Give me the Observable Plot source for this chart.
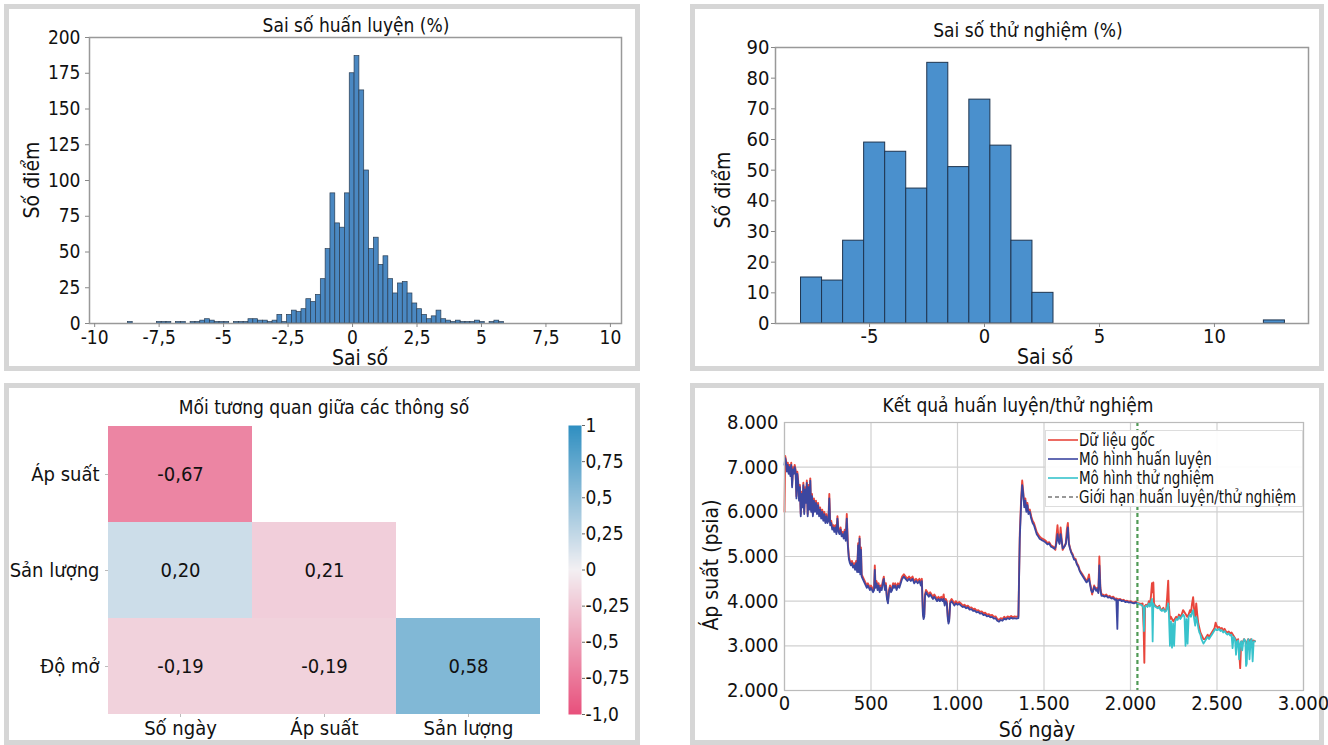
<!DOCTYPE html>
<html><head><meta charset="utf-8">
<script src="https://cdn.jsdelivr.net/npm/d3@7"></script>
<script src="https://cdn.jsdelivr.net/npm/@observablehq/plot@0.6"></script>
<style>
body{margin:0;background:#fff;}
#root{position:relative;width:1328px;height:745px;overflow:hidden;font-family:"Liberation Sans Narrow","DejaVu Sans Condensed","Roboto Condensed","Open Sans Condensed",Roboto,sans-serif;font-stretch:condensed;color:#111;}
.panel{position:absolute;border:5px solid #d6d6d6;box-sizing:border-box;}
.wrap{position:absolute;}
.t{position:absolute;transform:translate(-50%,-50%);white-space:nowrap;line-height:1;}
.leg{position:absolute;background:rgba(255,255,255,0.92);border:1px solid #ddd;box-sizing:border-box;}
</style></head>
<body><div id="root"></div>
<script>
const FONT = '"Liberation Sans Narrow","DejaVu Sans Condensed","Roboto Condensed","Open Sans Condensed",Roboto,sans-serif';

// ---------- Panel 1: training error histogram ----------
const trainTitle = "Sai số huấn luyện (%)";
const trainBinStart = -8.71, trainBinWidth = 0.187;
const trainCounts = [1,0,0,0,0,0,1,1,1,0,1,1,0,1,1,2,3,2,1,1,1,0,1,1,1,3,3,2,2,1,2,6,1,6,9,8,10,17,15,20,31,52,91,70,67,91,175,187,163,107,52,60,41,47,31,21,28,29,21,14,10,6,3,5,9,3,2,1,2,1,1,1,2,1,0,1,2,1];
const trainXTicks = [-10,-7.5,-5,-2.5,0,2.5,5,7.5,10];
const trainXLabels = ["-10","-7,5","-5","-2,5","0","2,5","5","7,5","10"];
const trainYTicks = [0,25,50,75,100,125,150,175,200];
const trainYLabels = ["0","25","50","75","100","125","150","175","200"];

// ---------- Panel 2: test error histogram ----------
const testTitle = "Sai số thử nghiệm (%)";
const testBinStart = -7.98, testBinWidth = 0.915;
const testCounts = [15,14,27,59,56,44,85,51,73,58,27,10,0,0,0,0,0,0,0,0,0,0,1];
const testXTicks = [-5,0,5,10];
const testXLabels = ["-5","0","5","10"];
const testYTicks = [0,10,20,30,40,50,60,70,80,90];
const testYLabels = ["0","10","20","30","40","50","60","70","80","90"];

// ---------- Panel 3: correlation heatmap ----------
const corrTitle = "Mối tương quan giữa các thông số";
const corrRowNames = ["Áp suất","Sản lượng","Độ mở"];
const corrColNames = ["Số ngày","Áp suất","Sản lượng"];
const corrColorValues = [[-0.67,null,null],[0.20,-0.21,null],[-0.19,-0.19,0.58]];
const corrCellLabels = [["-0,67","",""],["0,20","0,21",""],["-0,19","-0,19","0,58"]];
const cbTicks = [-1,-0.75,-0.5,-0.25,0,0.25,0.5,0.75,1];
const cbLabels = ["-1,0","-0,75","-0,5","-0,25","0","0,25","0,5","0,75","1"];
const corrPalette = ["#e8507c","#f3f0f3","#2f8fc1"];

// ---------- Panel 4: pressure vs days ----------
const lineTitle = "Kết quả huấn luyện/thử nghiệm";
const splitDay = 2040;
const obsSeries = [[0,6000],[4,7250],[9,7150],[14,6950],[19,7100],[24,6900],[29,7050],[34,6850],[39,7100],[44,6600],[49,7000],[54,6900],[59,7050],[64,6950],[69,6350],[74,6900],[79,6700],[84,6300],[89,6600],[94,5950],[99,6450],[104,6150],[109,6650],[114,6000],[119,6550],[124,6250],[129,6700],[134,5950],[139,6600],[144,6100],[149,6750],[154,6050],[159,6400],[164,5950],[170,6300],[176,6050],[182,6250],[188,6000],[194,6200],[200,5950],[206,6100],[212,5900],[218,6050],[224,5850],[230,6000],[236,5800],[242,5950],[248,5800],[254,5850],[259,6400],[264,5750],[270,5800],[276,5650],[282,5700],[288,5600],[294,5700],[300,5550],[306,5900],[312,5600],[318,5550],[324,5650],[330,5500],[336,5550],[342,5450],[348,5600],[354,5400],[360,5950],[366,5300],[372,5000],[378,4900],[384,4850],[390,4900],[396,4800],[402,4850],[408,4750],[414,4900],[420,4700],[426,5300],[430,4700],[434,5450],[438,4650],[442,5200],[446,4600],[452,4550],[458,4500],[464,4450],[470,4400],[476,4350],[482,4400],[488,4350],[494,4300],[500,4350],[506,4300],[512,4250],[518,4300],[522,4800],[526,4350],[532,4450],[538,4300],[544,4400],[550,4250],[556,4350],[562,4300],[568,4450],[574,4550],[580,4300],[586,4400],[592,4100],[598,4000],[604,4250],[610,4350],[616,4250],[622,4300],[628,4400],[634,4350],[640,4400],[648,4300],[656,4400],[664,4350],[672,4450],[680,4550],[690,4600],[700,4550],[710,4500],[720,4550],[730,4500],[740,4550],[750,4450],[760,4500],[770,4450],[780,4500],[788,4400],[794,4500],[800,3750],[804,3650],[808,3700],[812,4150],[818,4250],[826,4200],[834,4150],[842,4200],[850,4150],[858,4100],[866,4150],[874,4100],[882,4050],[890,4100],[898,4050],[906,4100],[914,4050],[920,4150],[926,3950],[932,4050],[938,4000],[944,3650],[948,3550],[952,3600],[958,4000],[966,4050],[974,4000],[982,3950],[990,4000],[1000,3950],[1010,3980],[1020,3950],[1030,3900],[1040,3920],[1050,3880],[1060,3900],[1070,3850],[1080,3860],[1090,3820],[1100,3830],[1110,3790],[1120,3800],[1130,3760],[1140,3770],[1150,3730],[1160,3740],[1170,3700],[1180,3710],[1190,3680],[1200,3690],[1210,3650],[1220,3660],[1230,3600],[1240,3580],[1250,3620],[1260,3600],[1270,3650],[1280,3620],[1290,3660],[1300,3640],[1310,3670],[1320,3640],[1330,3660],[1340,3650],[1352,3660],[1360,5500],[1368,6300],[1374,6700],[1380,6450],[1386,6150],[1392,6300],[1398,6050],[1404,6200],[1410,6000],[1418,6050],[1426,5900],[1434,5800],[1442,5750],[1450,5650],[1458,5550],[1466,5500],[1474,5450],[1482,5420],[1490,5400],[1500,5380],[1510,5350],[1520,5300],[1530,5320],[1540,5250],[1550,5230],[1560,5200],[1566,5150],[1572,5450],[1578,5700],[1584,5400],[1590,5300],[1596,5650],[1602,5400],[1608,5150],[1614,5200],[1620,5250],[1626,5300],[1632,5600],[1638,5750],[1644,5300],[1650,5200],[1658,5100],[1666,5050],[1674,4950],[1682,4950],[1690,4850],[1698,4800],[1706,4700],[1714,4650],[1722,4600],[1730,4550],[1738,4500],[1746,4450],[1754,4500],[1760,4600],[1766,4400],[1772,4300],[1778,4150],[1784,4250],[1790,4350],[1796,4300],[1802,4250],[1808,4300],[1814,4200],[1820,5000],[1826,4300],[1832,4150],[1840,4150],[1850,4120],[1860,4150],[1870,4100],[1880,4120],[1890,4080],[1900,4100],[1910,4050],[1920,4060],[1930,4040],[1940,4050],[1950,4020],[1960,4030],[1970,4000],[1980,4010],[1990,3990],[2000,4000],[2010,3980],[2020,3970],[2030,3990],[2040,3960],[2050,3950],[2060,3940],[2070,3950],[2076,3400],[2080,2620],[2084,3900],[2090,3920],[2098,3880],[2106,4000],[2112,3900],[2118,4100],[2124,4400],[2128,4200],[2132,4420],[2136,3950],[2142,3900],[2150,3880],[2158,3850],[2166,3900],[2174,3820],[2182,3800],[2190,3850],[2198,3780],[2206,3800],[2212,4100],[2218,4460],[2222,3900],[2228,3600],[2234,3650],[2240,3600],[2248,3550],[2256,3600],[2264,3650],[2272,3600],[2280,3700],[2288,3650],[2296,3700],[2304,3800],[2312,3750],[2320,3700],[2328,3650],[2336,3700],[2344,3800],[2350,3750],[2356,3950],[2362,4090],[2368,3800],[2374,3650],[2380,3950],[2386,3700],[2392,3500],[2398,3400],[2404,3300],[2410,3250],[2416,3200],[2422,3150],[2430,3150],[2438,3200],[2446,3250],[2454,3200],[2462,3250],[2470,3300],[2478,3350],[2486,3400],[2492,3520],[2498,3450],[2504,3400],[2512,3420],[2520,3380],[2528,3400],[2536,3350],[2544,3380],[2552,3320],[2560,3300],[2568,3320],[2576,3280],[2584,3300],[2592,3250],[2600,3200],[2608,3150],[2616,3100],[2622,3150],[2628,2900],[2634,2500],[2640,3100],[2648,3050],[2656,3150],[2664,3100],[2672,3050],[2680,3150],[2688,3100],[2696,3150],[2704,3100],[2712,3120],[2720,3100]];
const trainSeries = [[0,7050],[4,7200],[9,7100],[14,6900],[19,7050],[24,6850],[29,7000],[34,6800],[39,7050],[44,6550],[49,6950],[54,6850],[59,7000],[64,6900],[69,6300],[74,6850],[79,6650],[84,6250],[89,6550],[94,5900],[99,6400],[104,6100],[109,6600],[114,5950],[119,6500],[124,6200],[129,6650],[134,5900],[139,6550],[144,6050],[149,6700],[154,6000],[159,6350],[164,5900],[170,6250],[176,6000],[182,6200],[188,5950],[194,6150],[200,5900],[206,6050],[212,5850],[218,6000],[224,5800],[230,5950],[236,5750],[242,5900],[248,5750],[254,5800],[259,6300],[264,5700],[270,5750],[276,5600],[282,5650],[288,5550],[294,5650],[300,5500],[306,5850],[312,5550],[318,5500],[324,5600],[330,5450],[336,5500],[342,5400],[348,5550],[354,5350],[360,5850],[366,5250],[372,4950],[378,4850],[384,4800],[390,4850],[396,4750],[402,4800],[408,4700],[414,4850],[420,4650],[426,5250],[430,4650],[434,5400],[438,4600],[442,5150],[446,4550],[452,4500],[458,4450],[464,4400],[470,4350],[476,4300],[482,4350],[488,4300],[494,4250],[500,4300],[506,4250],[512,4200],[518,4250],[522,4700],[526,4300],[532,4400],[538,4250],[544,4350],[550,4200],[556,4300],[562,4250],[568,4400],[574,4500],[580,4250],[586,4350],[592,4050],[598,3950],[604,4200],[610,4300],[616,4200],[622,4250],[628,4350],[634,4300],[640,4350],[648,4250],[656,4350],[664,4300],[672,4400],[680,4500],[690,4550],[700,4500],[710,4450],[720,4500],[730,4450],[740,4500],[750,4400],[760,4450],[770,4400],[780,4450],[788,4350],[794,4450],[800,3700],[804,3600],[808,3650],[812,4100],[818,4200],[826,4150],[834,4100],[842,4150],[850,4100],[858,4050],[866,4100],[874,4050],[882,4000],[890,4050],[898,4000],[906,4050],[914,4000],[920,4050],[926,3900],[932,4000],[938,3950],[944,3600],[948,3500],[952,3550],[958,3950],[966,4000],[974,3950],[982,3900],[990,3950],[1000,3920],[1010,3940],[1020,3900],[1030,3870],[1040,3880],[1050,3840],[1060,3860],[1070,3810],[1080,3820],[1090,3780],[1100,3790],[1110,3750],[1120,3760],[1130,3720],[1140,3730],[1150,3690],[1160,3700],[1170,3660],[1180,3670],[1190,3640],[1200,3650],[1210,3610],[1220,3620],[1230,3560],[1240,3540],[1250,3580],[1260,3560],[1270,3610],[1280,3590],[1290,3620],[1300,3600],[1310,3630],[1320,3610],[1330,3620],[1340,3610],[1352,3620],[1360,5400],[1368,6200],[1374,6600],[1380,6400],[1386,6100],[1392,6250],[1398,6000],[1404,6150],[1410,5950],[1418,6000],[1426,5850],[1434,5750],[1442,5700],[1450,5600],[1458,5500],[1466,5450],[1474,5400],[1482,5380],[1490,5360],[1500,5340],[1510,5310],[1520,5270],[1530,5290],[1540,5220],[1550,5200],[1560,5170],[1566,5200],[1572,5300],[1578,5500],[1584,5350],[1590,5280],[1596,5500],[1602,5350],[1608,5180],[1614,5200],[1620,5230],[1626,5280],[1632,5450],[1638,5650],[1644,5280],[1650,5180],[1658,5080],[1666,5020],[1674,4930],[1682,4920],[1690,4820],[1698,4770],[1706,4680],[1714,4620],[1722,4570],[1730,4520],[1738,4470],[1746,4420],[1754,4460],[1760,4500],[1766,4380],[1772,4250],[1778,4200],[1784,4220],[1790,4320],[1796,4280],[1802,4230],[1808,4270],[1814,4180],[1820,4800],[1826,4250],[1832,4120],[1840,4120],[1850,4100],[1860,4120],[1870,4080],[1880,4090],[1890,4060],[1900,4070],[1910,4030],[1918,4040],[1924,3380],[1928,4020],[1940,4030],[1950,4000],[1960,4010],[1970,3980],[1980,3990],[1990,3970],[2000,3980],[2010,3960],[2020,3950],[2030,3970],[2040,3940]];
const testSeries = [[2040,3950],[2050,3930],[2060,3920],[2068,3900],[2074,3850],[2078,3330],[2082,3850],[2090,3900],[2098,3870],[2106,3950],[2112,3880],[2118,3950],[2124,4050],[2128,3100],[2132,3950],[2136,3900],[2142,3880],[2150,3860],[2158,3840],[2166,3870],[2174,3800],[2182,3780],[2190,3820],[2198,3760],[2206,3780],[2212,3850],[2218,3950],[2222,3700],[2228,3000],[2234,3550],[2240,2960],[2246,3500],[2252,3000],[2258,3550],[2264,3600],[2272,3580],[2280,3650],[2288,3600],[2296,3650],[2304,3700],[2312,3650],[2318,3000],[2324,3600],[2330,3050],[2336,3650],[2344,3700],[2350,3650],[2356,3750],[2362,3800],[2368,3600],[2374,3450],[2380,3650],[2386,3550],[2392,3400],[2398,3300],[2404,3250],[2410,3150],[2416,3100],[2422,3050],[2430,3100],[2438,3150],[2446,3200],[2454,3150],[2462,3200],[2470,3250],[2478,3300],[2486,3350],[2492,3380],[2498,3350],[2504,3350],[2512,3380],[2520,3330],[2528,3350],[2536,3300],[2544,3330],[2552,3280],[2560,3250],[2568,3280],[2576,3230],[2584,3250],[2590,2950],[2596,3200],[2604,3150],[2610,2800],[2616,3100],[2622,3120],[2628,2700],[2634,3050],[2640,3100],[2646,2900],[2652,3100],[2658,3150],[2664,3100],[2668,2550],[2672,2600],[2676,3100],[2682,3150],[2688,2700],[2694,3100],[2700,3150],[2706,2650],[2712,3100],[2720,3100]];
const lineXTicks = [0,500,1000,1500,2000,2500,3000];
const lineXLabels = ["0","500","1.000","1.500","2.000","2.500","3.000"];
const lineYTicks = [2000,3000,4000,5000,6000,7000,8000];
const lineYLabels = ["2.000","3.000","4.000","5.000","6.000","7.000","8.000"];
const legendNames = ["Dữ liệu gốc","Mô hình huấn luyện","Mô hình thử nghiệm","Giới hạn huấn luyện/thử nghiệm"];
const legendColors = ["#e8463c","#3c47a0","#38c3cc","#4f9a55"];

// ---------- helpers ----------
const root = document.getElementById("root");
function fmt(ticks, labels){const m=new Map(ticks.map((t,i)=>[t,labels[i]]));return d=>m.get(d) ?? "";}
function panel(l,t,w,h){const d=document.createElement("div");d.className="panel";Object.assign(d.style,{left:l+"px",top:t+"px",width:w+"px",height:h+"px"});root.appendChild(d);}
function place(el,l,t){const d=document.createElement("div");d.className="wrap";d.style.left=l+"px";d.style.top=t+"px";d.appendChild(el);root.appendChild(d);}
function txt(s,x,y,size,rot){const d=document.createElement("div");d.className="t";d.textContent=s;d.style.left=x+"px";d.style.top=y+"px";d.style.fontSize=size+"px";if(rot)d.style.transform="translate(-50%,-50%) rotate(-90deg)";root.appendChild(d);}
const baseStyle = {fontFamily:FONT,fontSize:"20px",color:"#111",background:"transparent",overflow:"visible"};
const axisOpts = {tickSize:4,stroke:"#888",fill:"#111",fontSize:20,label:null};

panel(4,4,636,367);
panel(690,4,634,367);
panel(4,383,636,362);
panel(690,383,634,362);

// ---------- Panel 1 ----------
const trainRows = trainCounts.map((c,i)=>({x1:trainBinStart+i*trainBinWidth,x2:trainBinStart+(i+1)*trainBinWidth,count:c})).filter(d=>d.count>0);
place(Plot.plot({
  width:664,height:372,marginLeft:89,marginRight:43,marginTop:37,marginBottom:49,
  style:baseStyle,
  x:{domain:[-10.2,10.43],label:null},
  y:{domain:[0,200],label:null},
  marks:[
    Plot.rectY(trainRows,{x1:"x1",x2:"x2",y:"count",fill:"#4a88c2",stroke:"#2a3d52",strokeWidth:0.7}),
    Plot.frame({stroke:"#999",strokeWidth:1.5}),
    Plot.axisX({...axisOpts,fontSize:19,ticks:trainXTicks,tickFormat:fmt(trainXTicks,trainXLabels),tickPadding:3}),
    Plot.axisY({...axisOpts,fontSize:19,ticks:trainYTicks,tickFormat:fmt(trainYTicks,trainYLabels),tickPadding:5})
  ]
}),0,0);
txt(trainTitle,356,25,19);
txt("Số điểm",32,180,21,true);
txt("Sai số",360,358,21);

// ---------- Panel 2 ----------
const testRows = testCounts.map((c,i)=>({x1:testBinStart+i*testBinWidth,x2:testBinStart+(i+1)*testBinWidth,count:c})).filter(d=>d.count>0);
place(Plot.plot({
  width:664,height:372,marginLeft:111,marginRight:20,marginTop:47,marginBottom:49,
  style:baseStyle,
  x:{domain:[-9.09,14.09],label:null},
  y:{domain:[0,90],label:null},
  marks:[
    Plot.rectY(testRows,{x1:"x1",x2:"x2",y:"count",fill:"#4a90cd",stroke:"#1f3550",strokeWidth:1}),
    Plot.frame({stroke:"#999",strokeWidth:1.5}),
    Plot.axisX({...axisOpts,ticks:testXTicks,tickFormat:fmt(testXTicks,testXLabels),tickPadding:1}),
    Plot.axisY({...axisOpts,ticks:testYTicks,tickFormat:fmt(testYTicks,testYLabels),tickPadding:2})
  ]
}),664,0);
txt(testTitle,1028,30,19);
txt("Số điểm",723,190,21,true);
txt("Sai số",1045,357,21);

// ---------- Panel 3 ----------
const corrCells = [];
corrRowNames.forEach((r,i)=>corrColNames.forEach((c,j)=>{if(corrColorValues[i][j]!==null)corrCells.push({row:r,col:c,v:corrColorValues[i][j],label:corrCellLabels[i][j]});}));
const colorScale = {type:"linear",domain:[-1,0,1],range:corrPalette};
place(Plot.plot({
  width:560,height:373,marginLeft:108,marginRight:20,marginTop:53,marginBottom:31,
  style:baseStyle,
  x:{domain:corrColNames,padding:0,label:null},
  y:{domain:corrRowNames,padding:0,label:null},
  color:colorScale,
  marks:[
    Plot.cell(corrCells,{x:"col",y:"row",fill:"v"}),
    Plot.text(corrCells,{x:"col",y:"row",text:"label",fontSize:20,fill:"#111"}),
    Plot.axisX({...axisOpts,tickSize:3,tickPadding:3,stroke:"#bbb"}),
    Plot.axisY({...axisOpts,tickSize:3,tickPadding:6,stroke:"#bbb"})
  ]
}),0,372);
place(Plot.plot({
  width:80,height:310,marginLeft:8,marginRight:59,marginTop:10,marginBottom:11,
  style:baseStyle,
  x:{domain:[0,1],axis:null},
  y:{domain:[-1,1],label:null},
  color:colorScale,
  marks:[
    Plot.raster({fill:(x,y)=>y,x1:0,x2:1,y1:-1,y2:1,width:2,height:290}),
    Plot.axisY({...axisOpts,anchor:"right",ticks:cbTicks,tickFormat:fmt(cbTicks,cbLabels),tickSize:3,tickPadding:1,stroke:"#666",fontSize:19})
  ]
}),560,415);
txt(corrTitle,324,407,19);

// ---------- Panel 4 ----------
place(Plot.plot({
  width:664,height:373,marginLeft:120,marginRight:25,marginTop:50,marginBottom:55,
  style:baseStyle,
  x:{domain:[0,3000],label:null},
  y:{domain:[2000,8000],label:null},
  marks:[
    Plot.gridX(lineXTicks,{stroke:"#d0d0d0",strokeOpacity:1,strokeWidth:1.2}),
    Plot.gridY(lineYTicks,{stroke:"#d0d0d0",strokeOpacity:1,strokeWidth:1.2}),
    Plot.line(obsSeries,{x:d=>d[0],y:d=>d[1],stroke:legendColors[0],strokeWidth:1.9}),
    Plot.line(trainSeries,{x:d=>d[0],y:d=>d[1],stroke:legendColors[1],strokeWidth:1.8}),
    Plot.line(testSeries,{x:d=>d[0],y:d=>d[1],stroke:legendColors[2],strokeWidth:1.8}),
    Plot.ruleX([splitDay],{stroke:legendColors[3],strokeWidth:2.2,strokeDasharray:"4,3"}),
    Plot.frame({stroke:"#bbb",strokeWidth:1.2}),
    Plot.axisX({...axisOpts,ticks:lineXTicks,tickFormat:fmt(lineXTicks,lineXLabels),tickSize:0,tickPadding:5}),
    Plot.axisY({...axisOpts,ticks:lineYTicks,tickFormat:fmt(lineYTicks,lineYLabels),tickSize:0,tickPadding:6})
  ]
}),664,372);
txt(lineTitle,1018,405,19);
txt("Áp suất (psia)",711,565,21,true);
txt("Số ngày",1037,730,21);

// legend
const leg = document.createElement("div");
leg.className="leg";
Object.assign(leg.style,{left:"1045px",top:"430px",width:"258px",height:"77px"});
root.appendChild(leg);
legendNames.forEach((name,i)=>{
  const y = 440 + i*19;
  const s = document.createElementNS("http://www.w3.org/2000/svg","svg");
  s.setAttribute("width","30");s.setAttribute("height","6");
  s.style.position="absolute";s.style.left="1048px";s.style.top=(y-3)+"px";
  const ln=document.createElementNS("http://www.w3.org/2000/svg","line");
  ln.setAttribute("x1","0");ln.setAttribute("x2","30");ln.setAttribute("y1","3");ln.setAttribute("y2","3");
  ln.setAttribute("stroke", i===3 ? "#777" : legendColors[i]);ln.setAttribute("stroke-width","1.6");
  if(i===3) ln.setAttribute("stroke-dasharray","4,3");
  s.appendChild(ln);root.appendChild(s);
  const d=document.createElement("div");
  d.className="t";d.textContent=name;
  d.style.transformOrigin="0 50%";d.style.transform="translate(0,-50%) scaleX(0.88)";
  d.style.left="1079px";d.style.top=y+"px";d.style.fontSize="17px";
  root.appendChild(d);
});
</script>
</body></html>
